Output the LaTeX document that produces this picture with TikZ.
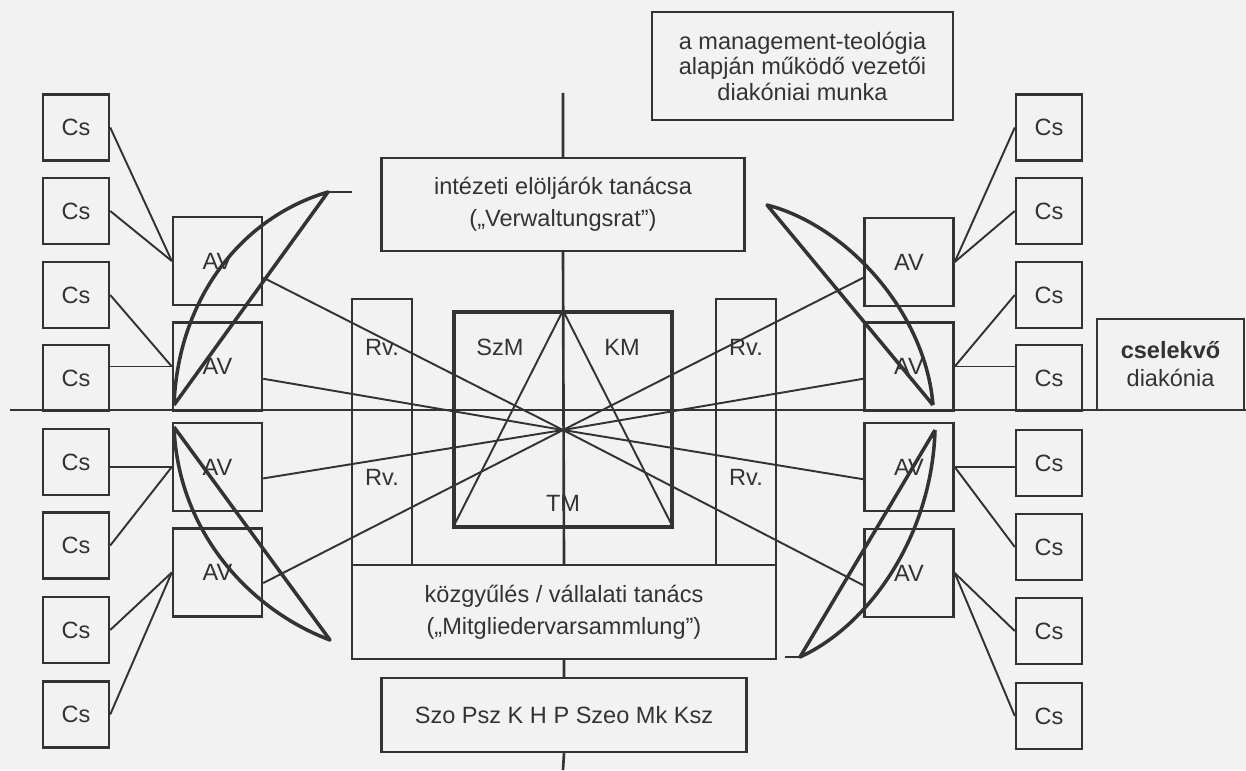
\documentclass[tikz,border=0pt]{standalone}
\usepackage{fontspec}
\setmainfont{Liberation Sans}
\usepackage{tikz}
\definecolor{ink}{gray}{0.2}
\definecolor{paper}{gray}{0.95}

\begin{document}
\begin{tikzpicture}[x=0.02cm, y=-0.02cm, font=\fontsize{13.4}{18}\selectfont]
\tikzstyle{box} = [draw=ink, line width=1.4pt, inner sep=0pt, text=ink, align=center]
\tikzstyle{cs} = [box, minimum width=1.32cm, minimum height=1.32cm]
\tikzstyle{av} = [box, minimum width=1.78cm, minimum height=1.76cm]
\tikzstyle{rv} = [box, minimum width=1.2cm, minimum height=5.32cm]
\tikzstyle{lbl} = [text=ink, inner sep=0pt]
\tikzstyle{link} = [draw=ink, line width=1.1pt]
\tikzstyle{axis} = [draw=ink, line width=1.5pt]
\tikzstyle{lens} = [draw=ink, line width=2pt, line join=round]
\fill[paper] (0,0) rectangle (1246,770);
\useasboundingbox (0,0) rectangle (1246,770);

% left column
\node[cs] (csl1) at (76,127.5) {Cs};
\node[cs] (csl2) at (76,211) {Cs};
\node[cs] (csl3) at (76,295) {Cs};
\node[cs] (csl4) at (76,378) {Cs};
\node[cs] (csl5) at (76,462) {Cs};
\node[cs] (csl6) at (76,545.5) {Cs};
\node[cs] (csl7) at (76,630) {Cs};
\node[cs] (csl8) at (76,714.5) {Cs};
\node[av] (avl1) at (217.5,261) {AV};
\node[av] (avl2) at (217.5,366.5) {AV};
\node[av] (avl3) at (217.5,467) {AV};
\node[av] (avl4) at (217.5,572.5) {AV};

% right column
\node[cs] (csr1) at (1049,127.5) {Cs};
\node[cs] (csr2) at (1049,211) {Cs};
\node[cs] (csr3) at (1049,295) {Cs};
\node[cs] (csr4) at (1049,378) {Cs};
\node[cs] (csr5) at (1049,463) {Cs};
\node[cs] (csr6) at (1049,547) {Cs};
\node[cs] (csr7) at (1049,631) {Cs};
\node[cs] (csr8) at (1049,716) {Cs};
\node[av] (avr1) at (909,262) {AV};
\node[av] (avr2) at (909,366.5) {AV};
\node[av] (avr3) at (909,467) {AV};
\node[av] (avr4) at (909,573) {AV};

% middle
\node[box, minimum width=6.02cm, minimum height=2.16cm,
  font=\fontsize{13.4}{14.5}\selectfont] (mgmt) at (802.5,66)
  {a management-teológia\\alapján működő vezetői\\diakóniai munka};
\node[box, minimum width=7.26cm, minimum height=1.86cm] (intezet) at (563,204.5)
  {intézeti elöljárók tanácsa\\(„Verwaltungsrat”)};
\node[rv] (rvl) at (382,432) {};
\node[rv] (rvr) at (746,432) {};
\node[lbl] (rvl1) at (382,347) {Rv.};
\node[lbl] (rvl2) at (382,477) {Rv.};
\node[lbl] (rvr1) at (746,347) {Rv.};
\node[lbl] (rvr2) at (746,477) {Rv.};
\node[box, line width=1.8pt, minimum width=4.36cm, minimum height=4.3cm] (sq) at (563,419.5) {};
\node[lbl] (szm) at (500,347) {SzM};
\node[lbl] (km) at (622,347) {KM};
\node[lbl] (tm) at (563,503) {TM};
\node[box, minimum width=8.48cm, minimum height=1.88cm] (kozgy) at (564,612)
  {közgyűlés / vállalati tanács\\(„Mitgliedervarsammlung”)};
\node[box, minimum width=7.3cm, minimum height=1.48cm] (szo) at (564,715)
  {Szo Psz K H P Szeo Mk Ksz};
\node[box, minimum width=2.94cm, minimum height=1.82cm,
  font=\fontsize{13.4}{16}\selectfont] (cselekvo) at (1170.5,364.5)
  {\textbf{cselekvő}\\diakónia};

\coordinate (c) at (563,430);
\coordinate (vtop) at (563,93);
\coordinate (vbot) at (563,770);
\coordinate (axl) at (10,410);
\coordinate (axr) at (1246,410);

% axes
\draw[axis] (vtop) -- (intezet.north)
  (intezet.south) -- (kozgy.north)
  (kozgy.south) -- (szo.north)
  (szo.south) -- (vbot);
\draw[axis] (axl) -- (axr);

% star in the square
\draw[link] (sq.south west) -- (sq.north) -- (sq.south east);

% Cs to AV
\draw[link] (csl1.east) -- (avl1.west);
\draw[link] (csl2.east) -- (avl1.west);
\draw[link] (csl3.east) -- (avl2.west);
\draw[link] (avl2.west) -- (avl2.west -| csl4.east);
\draw[link] (avl3.west) -- (avl3.west -| csl5.east);
\draw[link] (csl6.east) -- (avl3.west);
\draw[link] (csl7.east) -- (avl4.west);
\draw[link] (csl8.east) -- (avl4.west);
\draw[link] (avr1.east) -- (csr1.west);
\draw[link] (avr1.east) -- (csr2.west);
\draw[link] (avr2.east) -- (csr3.west);
\draw[link] (avr2.east) -- (avr2.east -| csr4.west);
\draw[link] (avr3.east) -- (avr3.east -| csr5.west);
\draw[link] (avr3.east) -- (csr6.west);
\draw[link] (avr4.east) -- (csr7.west);
\draw[link] (avr4.east) -- (csr8.west);

% AV to the centre
\draw[link] (avl1.-20) -- (c);
\draw[link] (avl2.-15) -- (c);
\draw[link] (avl3.-14) -- (c);
\draw[link] (avl4.-13) -- (c);
\draw[link] (avr1.199) -- (c);
\draw[link] (avr2.195) -- (c);
\draw[link] (avr3.195) -- (c);
\draw[link] (avr4.195) -- (c);

% lenses
\coordinate (ul1) at (174,405);
\coordinate (ul2) at (328,192);
\coordinate (ult) at (352,192);
\coordinate (ll1) at (174,427);
\coordinate (ll2) at (330,640);
\coordinate (ur1) at (933,405);
\coordinate (ur2) at (767,205);
\coordinate (lr1) at (935,430);
\coordinate (lr2) at (800,657);
\coordinate (lrt) at (785,657);
\draw[lens] (ul1) -- (ul2) .. controls (240,218) and (178,300) .. (ul1);
\draw[link] (ul2) -- (ult);
\draw[lens] (ll1) -- (ll2) .. controls (250,610) and (178,532) .. (ll1);
\draw[lens] (ur1) -- (ur2) .. controls (845,225) and (925,310) .. (ur1);
\draw[lens] (lr1) -- (lr2) .. controls (870,625) and (932,535) .. (lr1);
\draw[link] (lr2) -- (lrt);
\end{tikzpicture}
\end{document}
